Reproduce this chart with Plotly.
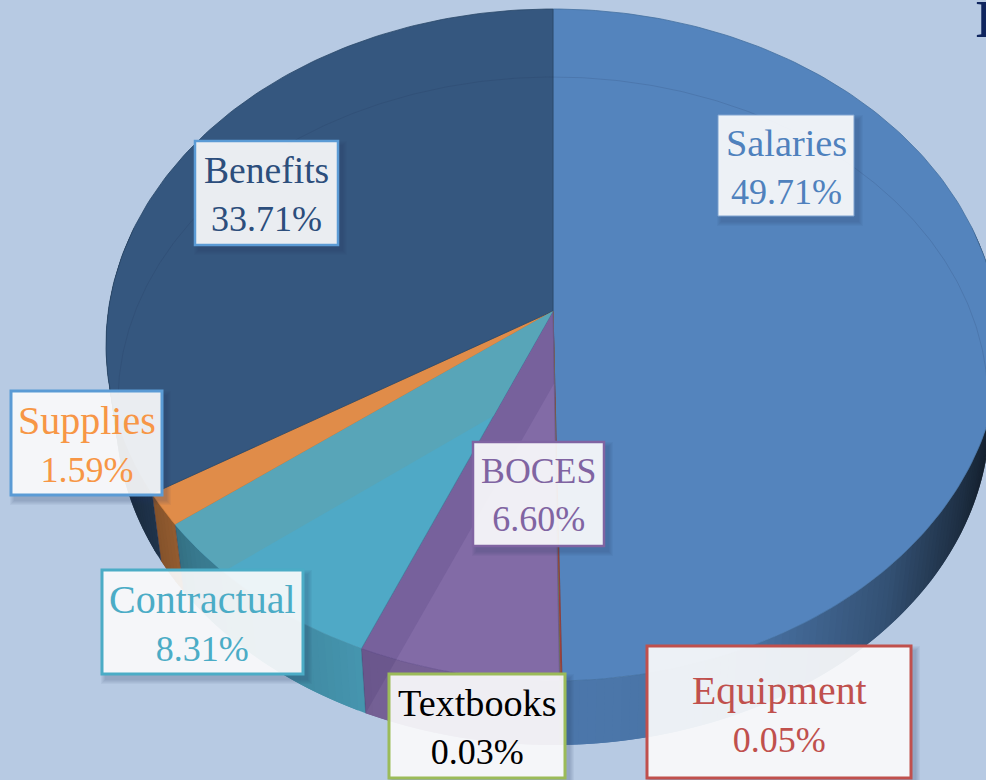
import numpy as np
import plotly.graph_objects as go

# ---------- data (clockwise from 12 o'clock) ----------
categories = ["Salaries", "Equipment", "Textbooks", "BOCES", "Contractual", "Supplies", "Benefits"]
percent_values = [49.71, 0.05, 0.03, 6.60, 8.31, 1.59, 33.71]
percent_labels = ["49.71%", "0.05%", "0.03%", "6.60%", "8.31%", "1.59%", "33.71%"]

# ---------- style ----------
slice_colors = ["#5484BD", "#A8453F", "#7E8F45", "#826BA6", "#4FA9C6", "#E08C49", "#35577F"]
edge_colors = ["#44709F", "#8E3A35", "#6A7A3A", "#6B5690", "#4590A9", "#D07A30", "#2A4768"]
text_colors = ["#4F81BD", "#C0504D", "#000000", "#8064A2", "#4BACC6", "#F79646", "#2C4E7C"]
border_colors = ["#7FA3D0", "#C0504D", "#9BBB59", "#8064A2", "#4BACC6", "#5B9BD5", "#5B9BD5"]
border_widths = [1, 3, 3, 2.5, 3, 3, 2.5]
name_sizes = [38.3, 39.8, 38.2, 35.8, 40, 40, 37.6]
PCT_SIZE = 36
# label boxes: x0, x1, y0, y1 in picture pixels
label_boxes = {
    "Salaries": (718, 854, 115, 216),
    "Equipment": (647, 911, 646, 778),
    "Textbooks": (389, 565, 674, 778),
    "BOCES": (473, 604, 442, 546),
    "Contractual": (102, 303, 570, 674),
    "Supplies": (11, 162, 391, 495),
    "Benefits": (195, 338, 141, 245),
}
BG = "#B7CAE3"
W, H = 986, 780
TOP = dict(cx=553.0, cy=345.0, rx=447.0, ry=336.0)
BOT = dict(cx=553.0, cy=415.0, rx=437.0, ry=330.0)
FAR = dict(cx=553.0, cy=402.0, rx=435.0, ry=325.0)
TILT = -0.101  # perspective shift of the pie centre


def project(theta):
    """Angle (rad, clockwise from top) -> unit-ellipse coords under perspective."""
    s, c = np.sin(theta), -np.cos(theta)
    d = 1 + TILT * c
    return s * np.sqrt(1 - TILT ** 2) / d, (c + TILT) / d


def to_px(u, v, e):
    return e["cx"] + e["rx"] * np.asarray(u), e["cy"] + e["ry"] * np.asarray(v)


def rim(theta, e=TOP):
    return to_px(*project(theta), e)


APEX = to_px(0.0, TILT, TOP)

cum = np.concatenate([[0.0], np.cumsum(percent_values)]) / sum(percent_values) * 2 * np.pi


def shade(hex_color, f):
    r, g, b = [int(hex_color[i:i + 2], 16) for i in (1, 3, 5)]
    return f"rgb({int(r * f)},{int(g * f)},{int(b * f)})"


def wall_factor(u):
    return float(np.interp(u, [-1.0, -0.93, -0.8, -0.4, 0.1, 0.45, 0.75, 0.92, 1.0],
                           [0.45, 0.55, 0.72, 0.90, 0.90, 0.86, 0.62, 0.36, 0.22]))


fig = go.Figure()


def poly(xs, ys, fill, line=None, lw=0.0):
    fig.add_trace(go.Scatter(
        x=np.asarray(xs, float), y=np.asarray(ys, float), mode="lines", fill="toself",
        fillcolor=fill, line=dict(color=line or fill, width=lw),
        hoverinfo="skip", showlegend=False))


# side wall: thin overlapping strips along the front of the pie
FRONT0, FRONT1 = np.radians(75), np.radians(285)
OVERLAP = np.radians(1.0)
for i, name in enumerate(categories):
    a0, a1 = max(cum[i], FRONT0), min(cum[i + 1], FRONT1)
    if a1 <= a0:
        continue
    n = max(1, int(np.ceil((a1 - a0) / np.radians(1.0))))
    edges = np.linspace(a0, a1, n + 1)
    for t0, t1 in zip(edges[:-1], edges[1:]):
        tt = np.linspace(t0, min(t1 + OVERLAP, a1), 3)
        xt, yt = rim(tt, TOP)
        xb, yb = rim(tt, BOT)
        mid_u = project((t0 + t1) / 2)[0]
        col = shade(slice_colors[i], wall_factor(mid_u))
        poly(np.r_[xt, xb[::-1]], np.r_[yt, yb[::-1]], col)

# wall edges between slices
for i in range(3, 7):
    t = cum[i]
    xt, yt = rim(t, TOP)
    xb, yb = rim(t, BOT)
    fig.add_trace(go.Scatter(x=[float(xt), float(xb)], y=[float(yt), float(yb)], mode="lines",
                             line=dict(color="rgba(40,40,80,0.35)", width=0.8),
                             hoverinfo="skip", showlegend=False))

# top face of each slice
for i, name in enumerate(categories):
    n = max(2, int(np.ceil((cum[i + 1] - cum[i]) / np.radians(1))))
    tt = np.linspace(cum[i], cum[i + 1], n + 1)
    xr, yr = rim(tt)
    poly(np.r_[APEX[0], xr, APEX[0]], np.r_[APEX[1], yr, APEX[1]],
         slice_colors[i], edge_colors[i], 0.8)

# soft reflection on Contractual
idx = categories.index("Contractual")
GLOSS_C = np.radians(223.4)
tt = np.linspace(GLOSS_C, cum[idx + 1], 12)
xr, yr = rim(tt)
bx, by = rim(cum[idx])
t_frac = 0.31
px = APEX[0] + t_frac * (bx - APEX[0])
py = APEX[1] + t_frac * (by - APEX[1])
poly(np.r_[px, xr, APEX[0], px], np.r_[py, yr, APEX[1], py], "#58A5B8", "rgba(88,165,184,0)", 0)

# soft reflection on BOCES (top face and wall)
idx = categories.index("BOCES")
xr, yr = rim(cum[idx + 1])
xb, yb = rim(cum[idx + 1], BOT)
ex, ey = rim(cum[idx])
t_frac = 0.195
px = APEX[0] + t_frac * (ex - APEX[0])
py = APEX[1] + t_frac * (ey - APEX[1])
poly([APEX[0], xr, xb, px, APEX[0]], [APEX[1], yr, yb, py, APEX[1]],
     "rgba(50,30,90,0.13)", "rgba(0,0,0,0)", 0)

# far edge of the base, seen through the top
tt = np.linspace(-np.pi / 2 - 0.05, np.pi / 2 + 0.05, 361)
xe, ye = to_px(np.sin(tt), -np.cos(tt), FAR)
fig.add_trace(go.Scatter(x=xe, y=ye, mode="lines", line=dict(color="rgba(25,45,80,0.16)", width=0.9),
                         hoverinfo="skip", showlegend=False))

# label boxes
shapes, annotations = [], []
for i, name in enumerate(categories):
    x0, x1, y0, y1 = label_boxes[name]
    for k in range(5, 0, -1):
        shapes.append(dict(type="rect", xref="x", yref="y", layer="above",
                           x0=x0 + 4 - k, x1=x1 + 4 + k, y0=y0 + 5 - k, y1=min(y1 + 5 + k, H),
                           fillcolor="rgba(40,60,100,0.05)", line=dict(width=0)))
    shapes.append(dict(type="rect", xref="x", yref="y", layer="above",
                       x0=x0, x1=x1, y0=y0, y1=y1,
                       fillcolor="rgba(255,255,255,0.90)",
                       line=dict(color=border_colors[i], width=border_widths[i])))
    text = (f'<span style="font-size:{name_sizes[i]}px">{name}</span><br>'
            f'<span style="font-size:{PCT_SIZE}px">{percent_labels[i]}</span>')
    annotations.append(dict(xref="x", yref="y", x=(x0 + x1) / 2,
                            y=(y0 + y1) / 2 + (2 if name == "Equipment" else 1),
                            xanchor="center", yanchor="middle", showarrow=False, align="center",
                            text=text,
                            font=dict(family="Liberation Serif, serif", size=37, color=text_colors[i])))

# clipped heading letter at the top right
annotations.append(dict(xref="x", yref="y", x=974, y=19, xanchor="left", yanchor="middle",
                        showarrow=False, text="<b>B</b>",
                        font=dict(family="Liberation Serif, serif", size=52, color="#10265F")))

fig.update_layout(
    width=W, height=H, margin=dict(l=0, r=0, t=0, b=0, pad=0),
    paper_bgcolor=BG, plot_bgcolor=BG, showlegend=False,
    xaxis=dict(range=[0, W], visible=False, fixedrange=True),
    yaxis=dict(range=[H, 0], visible=False, fixedrange=True),
    shapes=shapes, annotations=annotations,
)
fig.write_html("out.html", config={"displayModeBar": False},
               post_script="document.body.style.margin='0';document.body.style.overflow='hidden';"
                           "document.body.style.background='" + BG + "';")
